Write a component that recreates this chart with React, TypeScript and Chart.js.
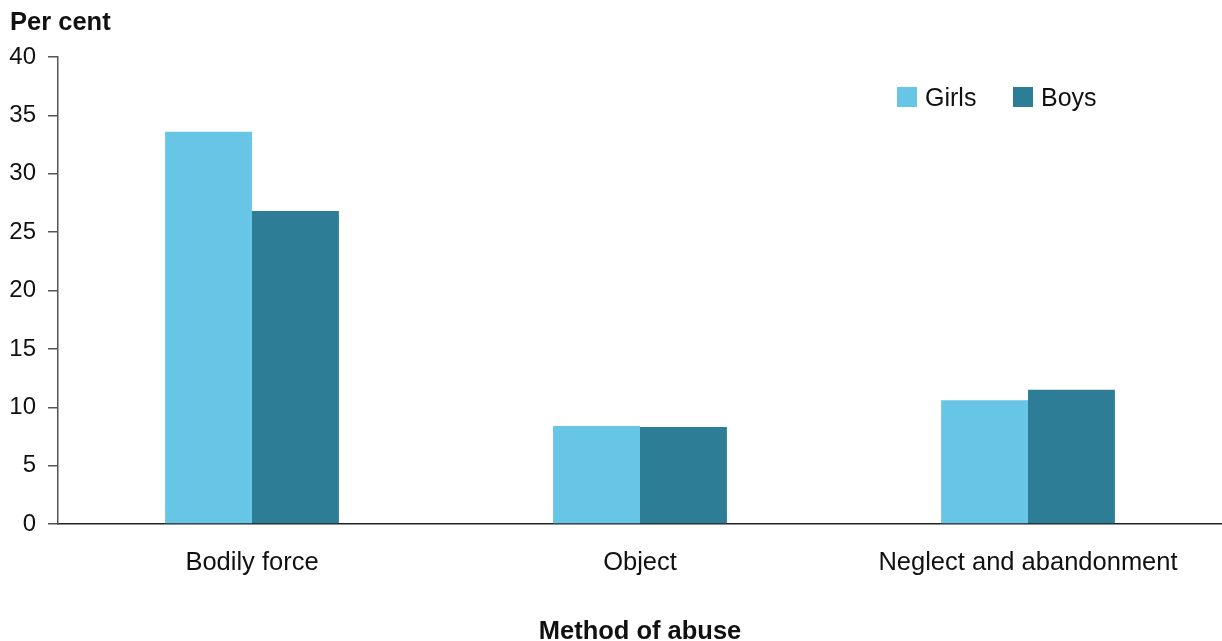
import React, { useEffect, useRef } from "react";
import { Chart, registerables } from "chart.js";

Chart.register(...registerables);

const categories = ["Bodily force", "Object", "Neglect and abandonment"];
const girls = [33.6, 8.4, 10.6];
const boys = [26.8, 8.3, 11.5];
const seriesNames = ["Girls", "Boys"];
const yTitle = "Per cent";
const xTitle = "Method of abuse";

const FONT = "'Liberation Sans', Arial, sans-serif";
const GIRLS_COLOR = "#67C5E5";
const BOYS_COLOR = "#2C7D95";

const overlayPlugin = {
  id: "overlay",
  afterDraw(chart: any) {
    const ctx = chart.ctx;
    ctx.save();
    ctx.fillStyle = "#111";
    ctx.font = `bold 25.5px ${FONT}`;
    ctx.textAlign = "left";
    ctx.textBaseline = "alphabetic";
    ctx.fillText(yTitle, 10, 29.5);

    // legend
    ctx.font = `25px ${FONT}`;
    ctx.textBaseline = "alphabetic";
    const items = chart.data.datasets.map((d: any) => ({ label: d.label, color: d.backgroundColor }));
    let x = 897;
    items.forEach((it: any) => {
      ctx.fillStyle = it.color;
      ctx.fillRect(x, 87, 20, 20);
      ctx.fillStyle = "#111";
      ctx.fillText(it.label, x + 28, 106);
      x += 116;
    });
    ctx.restore();
  },
};

export default function App() {
  const ref = useRef<HTMLCanvasElement | null>(null);
  useEffect(() => {
    if (!ref.current) return;
    const chart = new Chart(ref.current, {
      type: "bar",
      data: {
        labels: categories,
        datasets: [
          { label: seriesNames[0], data: girls, backgroundColor: GIRLS_COLOR, borderWidth: 0 },
          { label: seriesNames[1], data: boys, backgroundColor: BOYS_COLOR, borderWidth: 0 },
        ],
      },
      options: {
        animation: false,
        responsive: false,
        layout: { padding: { top: 57, left: 0, right: 0, bottom: 0 } },
        datasets: { bar: { categoryPercentage: 0.448, barPercentage: 1.0 } },
        plugins: {
          legend: { display: false },
          tooltip: { enabled: false },
          title: { display: false },
        },
        scales: {
          x: {
            grid: { display: false, drawTicks: false },
            border: { display: true, color: "#222", width: 1.5 },
            ticks: { color: "#111", font: { family: FONT, size: 25.5 }, padding: 24, maxRotation: 0 },
            title: {
              display: true,
              text: xTitle,
              color: "#111",
              font: { family: FONT, size: 25.5, weight: "bold", lineHeight: 0.72 },
              padding: 0,
            },
            afterFit(scale: any) {
              scale.height = 117;
            },
          },
          y: {
            min: 0,
            max: 40,
            ticks: { stepSize: 5, color: "#111", font: { family: FONT, size: 24 }, padding: 12 },
            grid: { drawOnChartArea: false, drawTicks: true, tickLength: 10, color: "#555", lineWidth: 1.5 },
            border: { display: true, color: "#555", width: 1.5 },
            afterFit(scale: any) {
              scale.width = 58;
            },
          },
        },
      },
      plugins: [overlayPlugin],
    });
    return () => chart.destroy();
  }, []);
  return (
    <div style={{ position: "absolute", left: 0, top: 0, width: 1222, height: 641, background: "#fff" }}>
      <canvas ref={ref} width={1222} height={641} />
    </div>
  );
}
